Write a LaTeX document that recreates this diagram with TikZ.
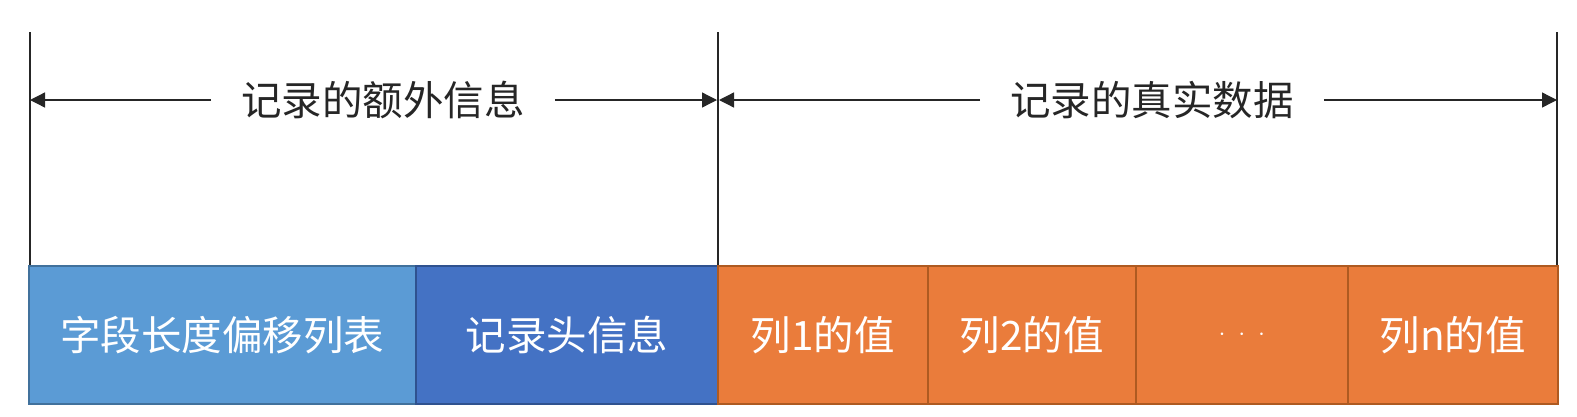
\documentclass[tikz,border=0pt]{standalone}
\usepackage{fontspec}
\setmainfont{Noto Sans CJK SC}
\usetikzlibrary{arrows.meta}
\definecolor{lblue}{HTML}{5B9BD5}
\definecolor{lblueb}{HTML}{41719C}
\definecolor{dblue}{HTML}{4472C4}
\definecolor{dblueb}{HTML}{2F528F}
\definecolor{orng}{HTML}{EA7C3B}
\definecolor{orngb}{HTML}{AE5A21}
\begin{document}
\begin{tikzpicture}[x=1pt,y=-1pt,
  box/.style={rectangle, line width=1.6pt, minimum height=138pt, anchor=north west, inner sep=0pt, text=white, font=\fontsize{40.5}{48}\selectfont},
  lab/.style={font=\fontsize{40.5}{48}\selectfont, text=black!85, inner xsep=30pt, inner ysep=0pt},
  guide/.style={line width=1.3pt, black!85},
  dim/.style={line width=1.3pt, black!85, -{Triangle[length=15pt,width=15pt]}}]
\useasboundingbox (0,0) rectangle (1577,416);
% boxes
\node[box, fill=lblue, draw=lblueb, minimum width=387pt] (f1) at (28,265) {字段长度偏移列表};
\node[box, fill=dblue, draw=dblueb, minimum width=302pt] (f2) at (415,265) {记录头信息};
\node[box, fill=orng, draw=orngb, minimum width=210pt] (c1) at (717,265) {列1的值};
\node[box, fill=orng, draw=orngb, minimum width=208pt] (c2) at (927,265) {列2的值};
\node[box, fill=orng, draw=orngb, minimum width=212pt] (c3) at (1135,265) {\fontsize{33}{40}\selectfont$\cdot\ \cdot\ \cdot$};
\node[box, fill=orng, draw=orngb, minimum width=210pt] (cn) at (1347,265) {列n的值};
% guide lines
\coordinate (t0) at (30,32);
\coordinate (t1) at (718,32);
\coordinate (t2) at (1557,32);
\coordinate (b0) at (30,265);
\coordinate (b1) at (718,265);
\coordinate (b2) at (1557,265);
\draw[guide] (t0) -- (b0);
\draw[guide] (t1) -- (b1);
\draw[guide] (t2) -- (b2);
% labels
\node[lab] (l1) at (383,100) {记录的额外信息};
\node[lab] (l2) at (1152,100) {记录的真实数据};
\coordinate (a0) at (30,100);
\coordinate (a1) at (717,100);
\coordinate (a2) at (719,100);
\coordinate (a3) at (1557,100);
\draw[dim] (l1.west) -- (a0);
\draw[dim] (l1.east) -- (a1);
\draw[dim] (l2.west) -- (a2);
\draw[dim] (l2.east) -- (a3);
\end{tikzpicture}
\end{document}
